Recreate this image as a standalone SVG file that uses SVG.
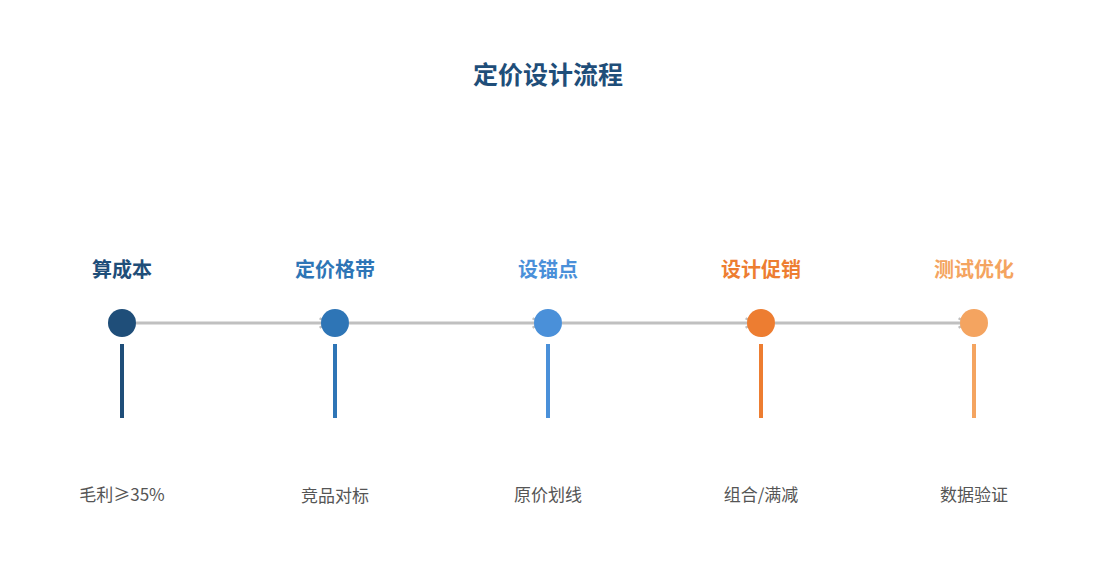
<svg xmlns="http://www.w3.org/2000/svg" width="1095" height="585" viewBox="0 0 1095 585">
<style>
text{font-family:"Noto Sans CJK SC","Liberation Sans",sans-serif;text-anchor:middle}
.t{font-size:25px;font-weight:bold;fill:#1f4e79}
.h{font-size:20px;font-weight:bold}
.d{font-size:17px;fill:#555}
.c{stroke:#c0c0c0;stroke-width:3;fill:none;marker-end:url(#a)}
</style>
<defs><marker id="a" viewBox="0 0 10 10" refX="8" refY="5" markerWidth="4" markerHeight="4" orient="auto"><path d="M1,1 L8,5 L1,9" fill="none" stroke="#c0c0c0" stroke-width="2"/></marker></defs>
<rect width="1095" height="585" fill="#fff"/>
<text class="t" x="548" y="84">定价设计流程</text>
<g id="connectors">
<line class="c" x1="136" y1="323" x2="328" y2="323"/>
<line class="c" x1="349" y1="323" x2="541" y2="323"/>
<line class="c" x1="562" y1="323" x2="754" y2="323"/>
<line class="c" x1="775" y1="323" x2="967" y2="323"/>
</g>
<g id="n1"><text class="h" x="122" y="277" fill="#1f4e79">算成本</text><circle cx="122" cy="323" r="14" fill="#1f4e79"/><rect x="120" y="344" width="4" height="74" fill="#1f4e79"/><text class="d" x="122" y="501">毛利≥35%</text></g>
<g id="n2"><text class="h" x="335" y="277" fill="#2e75b6">定价格带</text><circle cx="335" cy="323" r="14" fill="#2e75b6"/><rect x="333" y="344" width="4" height="74" fill="#2e75b6"/><text class="d" x="335" y="502">竞品对标</text></g>
<g id="n3"><text class="h" x="548" y="277" fill="#4a90d9">设锚点</text><circle cx="548" cy="323" r="14" fill="#4a90d9"/><rect x="546" y="344" width="4" height="74" fill="#4a90d9"/><text class="d" x="548" y="501">原价划线</text></g>
<g id="n4"><text class="h" x="761" y="277" fill="#ed7d31">设计促销</text><circle cx="761" cy="323" r="14" fill="#ed7d31"/><rect x="759" y="344" width="4" height="74" fill="#ed7d31"/><text class="d" x="761" y="501">组合/满减</text></g>
<g id="n5"><text class="h" x="974" y="277" fill="#f4a460">测试优化</text><circle cx="974" cy="323" r="14" fill="#f4a460"/><rect x="972" y="344" width="4" height="74" fill="#f4a460"/><text class="d" x="974" y="501">数据验证</text></g>
</svg>
